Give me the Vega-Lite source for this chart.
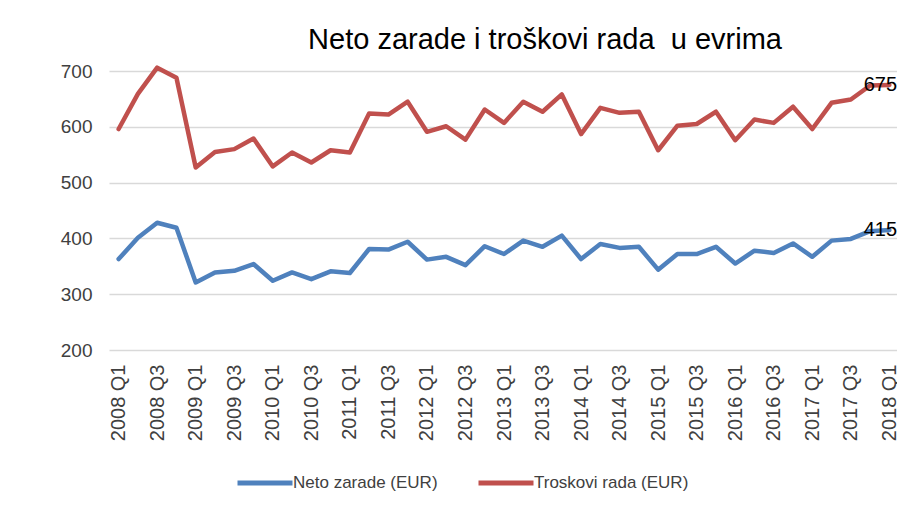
{
  "$schema": "https://vega.github.io/schema/vega-lite/v6.json",
  "width": 790,
  "height": 279,
  "autosize": {"type": "none"},
  "padding": {"left": 109, "top": 71, "right": 0, "bottom": 162},
  "background": "white",
  "config": {
    "view": {"stroke": null},
    "font": "Liberation Sans",
    "axis": {"labelFont": "Liberation Sans", "labelColor": "#404040"}
  },
  "title": {
    "text": "Neto zarade i troškovi rada \u00a0u evrima",
    "fontSize": 29,
    "fontWeight": "normal",
    "color": "#000000",
    "anchor": "middle",
    "dx": 41,
    "offset": 7
  },
  "data": {
    "values": [
      {"q":"2008 Q1","s":"Neto zarade (EUR)","v":363},{"q":"2008 Q2","s":"Neto zarade (EUR)","v":401},{"q":"2008 Q3","s":"Neto zarade (EUR)","v":428},{"q":"2008 Q4","s":"Neto zarade (EUR)","v":419},
      {"q":"2009 Q1","s":"Neto zarade (EUR)","v":321},{"q":"2009 Q2","s":"Neto zarade (EUR)","v":339},{"q":"2009 Q3","s":"Neto zarade (EUR)","v":342},{"q":"2009 Q4","s":"Neto zarade (EUR)","v":354},
      {"q":"2010 Q1","s":"Neto zarade (EUR)","v":324},{"q":"2010 Q2","s":"Neto zarade (EUR)","v":339},{"q":"2010 Q3","s":"Neto zarade (EUR)","v":327},{"q":"2010 Q4","s":"Neto zarade (EUR)","v":341},
      {"q":"2011 Q1","s":"Neto zarade (EUR)","v":338},{"q":"2011 Q2","s":"Neto zarade (EUR)","v":381},{"q":"2011 Q3","s":"Neto zarade (EUR)","v":380},{"q":"2011 Q4","s":"Neto zarade (EUR)","v":394},
      {"q":"2012 Q1","s":"Neto zarade (EUR)","v":362},{"q":"2012 Q2","s":"Neto zarade (EUR)","v":367},{"q":"2012 Q3","s":"Neto zarade (EUR)","v":352},{"q":"2012 Q4","s":"Neto zarade (EUR)","v":386},
      {"q":"2013 Q1","s":"Neto zarade (EUR)","v":372},{"q":"2013 Q2","s":"Neto zarade (EUR)","v":396},{"q":"2013 Q3","s":"Neto zarade (EUR)","v":385},{"q":"2013 Q4","s":"Neto zarade (EUR)","v":405},
      {"q":"2014 Q1","s":"Neto zarade (EUR)","v":363},{"q":"2014 Q2","s":"Neto zarade (EUR)","v":390},{"q":"2014 Q3","s":"Neto zarade (EUR)","v":383},{"q":"2014 Q4","s":"Neto zarade (EUR)","v":385},
      {"q":"2015 Q1","s":"Neto zarade (EUR)","v":344},{"q":"2015 Q2","s":"Neto zarade (EUR)","v":372},{"q":"2015 Q3","s":"Neto zarade (EUR)","v":372},{"q":"2015 Q4","s":"Neto zarade (EUR)","v":385},
      {"q":"2016 Q1","s":"Neto zarade (EUR)","v":355},{"q":"2016 Q2","s":"Neto zarade (EUR)","v":378},{"q":"2016 Q3","s":"Neto zarade (EUR)","v":374},{"q":"2016 Q4","s":"Neto zarade (EUR)","v":391},
      {"q":"2017 Q1","s":"Neto zarade (EUR)","v":367},{"q":"2017 Q2","s":"Neto zarade (EUR)","v":396},{"q":"2017 Q3","s":"Neto zarade (EUR)","v":399},{"q":"2017 Q4","s":"Neto zarade (EUR)","v":413},
      {"q":"2018 Q1","s":"Neto zarade (EUR)","v":415},
      {"q":"2008 Q1","s":"Troskovi rada (EUR)","v":596},{"q":"2008 Q2","s":"Troskovi rada (EUR)","v":659},{"q":"2008 Q3","s":"Troskovi rada (EUR)","v":706},{"q":"2008 Q4","s":"Troskovi rada (EUR)","v":688},
      {"q":"2009 Q1","s":"Troskovi rada (EUR)","v":527},{"q":"2009 Q2","s":"Troskovi rada (EUR)","v":555},{"q":"2009 Q3","s":"Troskovi rada (EUR)","v":560},{"q":"2009 Q4","s":"Troskovi rada (EUR)","v":579},
      {"q":"2010 Q1","s":"Troskovi rada (EUR)","v":529},{"q":"2010 Q2","s":"Troskovi rada (EUR)","v":554},{"q":"2010 Q3","s":"Troskovi rada (EUR)","v":536},{"q":"2010 Q4","s":"Troskovi rada (EUR)","v":558},
      {"q":"2011 Q1","s":"Troskovi rada (EUR)","v":554},{"q":"2011 Q2","s":"Troskovi rada (EUR)","v":624},{"q":"2011 Q3","s":"Troskovi rada (EUR)","v":622},{"q":"2011 Q4","s":"Troskovi rada (EUR)","v":645},
      {"q":"2012 Q1","s":"Troskovi rada (EUR)","v":591},{"q":"2012 Q2","s":"Troskovi rada (EUR)","v":601},{"q":"2012 Q3","s":"Troskovi rada (EUR)","v":577},{"q":"2012 Q4","s":"Troskovi rada (EUR)","v":631},
      {"q":"2013 Q1","s":"Troskovi rada (EUR)","v":607},{"q":"2013 Q2","s":"Troskovi rada (EUR)","v":645},{"q":"2013 Q3","s":"Troskovi rada (EUR)","v":627},{"q":"2013 Q4","s":"Troskovi rada (EUR)","v":658},
      {"q":"2014 Q1","s":"Troskovi rada (EUR)","v":587},{"q":"2014 Q2","s":"Troskovi rada (EUR)","v":634},{"q":"2014 Q3","s":"Troskovi rada (EUR)","v":625},{"q":"2014 Q4","s":"Troskovi rada (EUR)","v":627},
      {"q":"2015 Q1","s":"Troskovi rada (EUR)","v":558},{"q":"2015 Q2","s":"Troskovi rada (EUR)","v":602},{"q":"2015 Q3","s":"Troskovi rada (EUR)","v":605},{"q":"2015 Q4","s":"Troskovi rada (EUR)","v":627},
      {"q":"2016 Q1","s":"Troskovi rada (EUR)","v":576},{"q":"2016 Q2","s":"Troskovi rada (EUR)","v":613},{"q":"2016 Q3","s":"Troskovi rada (EUR)","v":607},{"q":"2016 Q4","s":"Troskovi rada (EUR)","v":636},
      {"q":"2017 Q1","s":"Troskovi rada (EUR)","v":596},{"q":"2017 Q2","s":"Troskovi rada (EUR)","v":643},{"q":"2017 Q3","s":"Troskovi rada (EUR)","v":649},{"q":"2017 Q4","s":"Troskovi rada (EUR)","v":674},
      {"q":"2018 Q1","s":"Troskovi rada (EUR)","v":675}
    ]
  },
  "encoding": {
    "x": {
      "field": "q",
      "type": "ordinal",
      "sort": null,
      "scale": {"type": "point", "padding": 0.5},
      "axis": {
        "title": null,
        "values": ["2008 Q1","2008 Q3","2009 Q1","2009 Q3","2010 Q1","2010 Q3","2011 Q1","2011 Q3","2012 Q1","2012 Q3","2013 Q1","2013 Q3","2014 Q1","2014 Q3","2015 Q1","2015 Q3","2016 Q1","2016 Q3","2017 Q1","2017 Q3","2018 Q1"],
        "labelAngle": -90,
        "labelFontSize": 20,
        "labelPadding": 14,
        "ticks": false,
        "domain": false,
        "grid": false
      }
    },
    "y": {
      "field": "v",
      "type": "quantitative",
      "scale": {"domain": [200, 700], "nice": false, "zero": false},
      "axis": {
        "title": null,
        "values": [200, 300, 400, 500, 600, 700],
        "labelFontSize": 19,
        "labelPadding": 17,
        "ticks": false,
        "domain": false,
        "grid": true,
        "gridColor": "#d9d9d9",
        "gridWidth": 1.3
      }
    }
  },
  "layer": [
    {
      "mark": {"type": "line", "strokeWidth": 4.5, "strokeCap": "round", "strokeJoin": "round", "clip": false},
      "encoding": {
        "color": {
          "field": "s",
          "type": "nominal",
          "scale": {"domain": ["Neto zarade (EUR)", "Troskovi rada (EUR)"], "range": ["#4f81bd", "#c0504d"]},
          "legend": {
            "title": null,
            "orient": "none",
            "direction": "horizontal",
            "legendX": 126,
            "legendY": 382,
            "symbolType": "stroke",
            "symbolSize": 3025,
            "symbolStrokeWidth": 5,
            "labelFontSize": 17,
            "labelColor": "#404040",
            "labelOffset": -2,
            "columnPadding": 30
          }
        }
      }
    },
    {
      "transform": [{"filter": "datum.q == '2018 Q1'"}],
      "mark": {"type": "text", "fontSize": 20, "align": "center", "baseline": "middle", "dx": -9, "color": "#000000"},
      "encoding": {"text": {"field": "v", "type": "quantitative"}}
    }
  ]
}
